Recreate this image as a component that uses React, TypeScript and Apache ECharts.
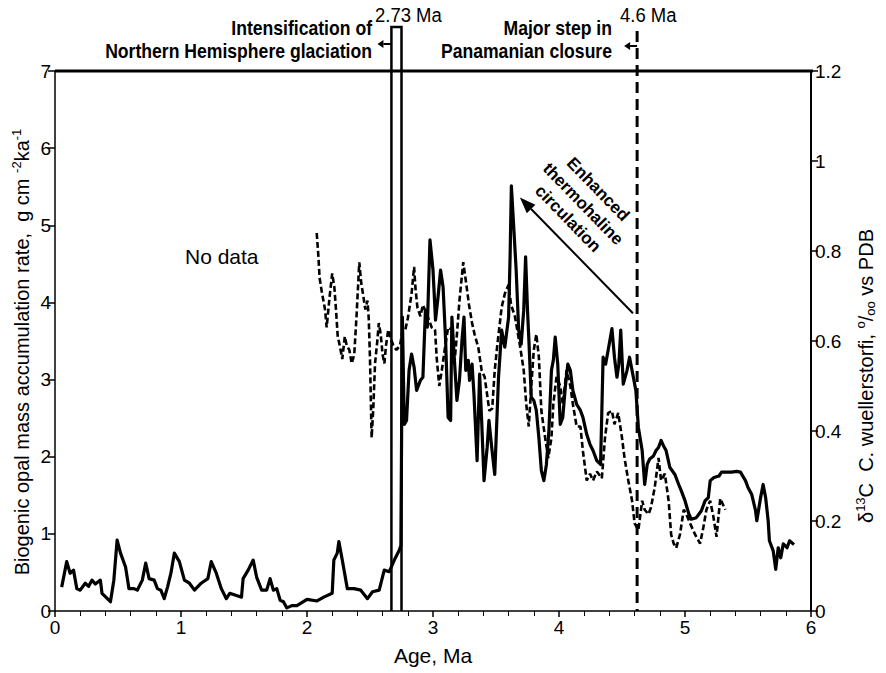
import React, { useEffect, useRef } from "react";
import * as echarts from "echarts";

// Biogenic opal mass accumulation rate (g cm-2 ka-1), solid line, left axis
const opalAge = [
  0.053, 0.093, 0.12, 0.147, 0.173, 0.2, 0.24, 0.267, 0.293, 0.32, 0.36, 0.373, 0.44, 0.467, 0.493, 0.52, 0.56,
  0.587, 0.627, 0.653, 0.693, 0.72, 0.747, 0.787, 0.813, 0.84, 0.867, 0.893, 0.92, 0.947, 0.987, 1.027, 1.067,
  1.107, 1.16, 1.213, 1.24, 1.28, 1.32, 1.36, 1.387, 1.44, 1.48, 1.493, 1.533, 1.573, 1.6, 1.64, 1.68, 1.707,
  1.733, 1.76, 1.787, 1.813, 1.84, 1.88, 1.92, 2.0, 2.08, 2.133, 2.2, 2.213, 2.24, 2.253, 2.28, 2.32, 2.373,
  2.427, 2.48, 2.52, 2.573, 2.613, 2.653, 2.693, 2.733, 2.745,
  2.757, 2.772, 2.79, 2.81, 2.83, 2.85, 2.87, 2.9, 2.92, 2.94, 2.955, 2.976, 3.0, 3.02, 3.04, 3.06, 3.08, 3.1,
  3.12, 3.14, 3.15, 3.17, 3.19, 3.21, 3.23, 3.246, 3.26, 3.28, 3.29, 3.31, 3.325, 3.35, 3.37, 3.386, 3.405,
  3.43, 3.444, 3.466, 3.49, 3.52, 3.545, 3.57, 3.6, 3.612, 3.622, 3.64, 3.66, 3.68, 3.7, 3.72, 3.735, 3.75,
  3.76, 3.78, 3.8, 3.82, 3.84, 3.86, 3.88, 3.9, 3.92, 3.94, 3.955, 3.97, 3.99, 4.01, 4.03, 4.05, 4.07, 4.09,
  4.11, 4.14, 4.17, 4.19, 4.22, 4.246, 4.27, 4.3, 4.33, 4.35, 4.37, 4.39, 4.42, 4.44, 4.46, 4.475, 4.49, 4.51,
  4.54, 4.56, 4.59, 4.61, 4.63, 4.66, 4.68, 4.7, 4.72, 4.75, 4.77, 4.79, 4.81, 4.83, 4.85, 4.88, 4.92, 4.95,
  4.97, 5.0, 5.03, 5.05, 5.09, 5.13, 5.16, 5.185, 5.2, 5.23, 5.27, 5.29, 5.33, 5.37, 5.41, 5.44, 5.48, 5.5,
  5.53, 5.56, 5.57, 5.6, 5.62, 5.64, 5.66, 5.67, 5.7, 5.72, 5.74, 5.76, 5.78, 5.81, 5.83, 5.865,
];
const opalRate = [
  0.31, 0.64, 0.49, 0.53, 0.29, 0.27, 0.36, 0.32, 0.4, 0.35, 0.4, 0.23, 0.12, 0.4, 0.92, 0.75, 0.57,
  0.29, 0.29, 0.27, 0.4, 0.62, 0.42, 0.4, 0.29, 0.27, 0.16, 0.31, 0.49, 0.75, 0.64, 0.4, 0.36,
  0.27, 0.36, 0.42, 0.64, 0.49, 0.29, 0.16, 0.23, 0.2, 0.18, 0.42, 0.53, 0.66, 0.44, 0.27, 0.27, 0.42,
  0.27, 0.29, 0.14, 0.12, 0.04, 0.07, 0.07, 0.15, 0.13, 0.18, 0.23, 0.66, 0.75, 0.9, 0.66, 0.29, 0.29,
  0.27, 0.16, 0.25, 0.27, 0.53, 0.51, 0.66, 0.79, 0.85,
  3.81, 2.42, 2.47, 3.12, 3.33, 3.16, 2.86, 2.99, 3.03, 3.9, 3.68, 4.81, 4.42, 3.77, 4.07, 4.42, 4.2, 3.51,
  2.51, 2.47, 3.81, 3.25, 2.73, 2.99, 3.51, 3.81, 3.12, 3.25, 2.99, 3.2, 2.81, 1.95, 3.07, 2.47, 1.69,
  2.12, 2.47, 2.12, 1.77, 3.03, 3.64, 3.42, 3.81, 4.6, 5.51, 5.0, 4.42, 3.64, 3.46, 3.9, 4.59, 3.9,
  3.55, 2.77, 2.73, 2.6, 2.25, 1.82, 1.69, 1.9, 2.34, 3.12, 3.25, 3.55, 3.2, 2.42, 2.51, 2.9, 3.2, 3.12,
  2.86, 2.68, 2.6, 2.51, 2.29, 2.16, 2.08, 1.95, 1.9, 3.29, 3.2, 3.38, 3.66, 3.29, 3.03, 3.2, 3.64, 2.94,
  3.12, 3.29, 3.03, 2.86, 2.38, 2.08, 1.64, 1.9, 1.97, 2.01, 2.08, 2.12, 2.21, 2.14, 2.08, 1.86, 1.77, 1.64,
  1.56, 1.43, 1.26, 1.19, 1.21, 1.3, 1.43, 1.47, 1.69, 1.73, 1.75, 1.8, 1.8, 1.8, 1.81, 1.8, 1.69, 1.6,
  1.51, 1.3, 1.17, 1.47, 1.64, 1.47, 1.17, 0.91, 0.78, 0.54, 0.82, 0.69, 0.87, 0.82, 0.91, 0.86,
];

// δ13C C. wuellerstorfi (‰ vs PDB), dashed line, right axis
const d13cAge = [
  2.077, 2.09, 2.1, 2.117, 2.13, 2.143, 2.156, 2.18, 2.2, 2.217, 2.23, 2.244, 2.26, 2.28, 2.3, 2.315, 2.336,
  2.355, 2.375, 2.394, 2.415, 2.43, 2.447, 2.463, 2.48, 2.49, 2.5, 2.508, 2.513, 2.526, 2.54, 2.558, 2.57,
  2.585, 2.6, 2.614, 2.627, 2.645, 2.66, 2.685, 2.71, 2.738, 2.76, 2.78, 2.8, 2.83, 2.85, 2.86, 2.876, 2.9,
  2.92, 2.95, 2.99, 3.016, 3.03, 3.05, 3.07, 3.095, 3.12, 3.15, 3.16, 3.17, 3.19, 3.21, 3.24, 3.26, 3.286,
  3.31, 3.33, 3.36, 3.386, 3.41, 3.43, 3.447, 3.47, 3.49, 3.51, 3.545, 3.57, 3.6, 3.62, 3.65, 3.69, 3.72,
  3.74, 3.76, 3.78, 3.8, 3.82, 3.84, 3.86, 3.89, 3.915, 3.94, 3.955, 3.98, 4.01, 4.03, 4.06, 4.09, 4.11,
  4.14, 4.17, 4.19, 4.22, 4.246, 4.27, 4.3, 4.34, 4.365, 4.39, 4.42, 4.44, 4.47, 4.5, 4.52, 4.55, 4.58, 4.6,
  4.63, 4.66, 4.68, 4.71, 4.73, 4.76, 4.79, 4.81, 4.84, 4.87, 4.89, 4.91, 4.93, 4.96, 4.99, 5.01, 5.04, 5.08,
  5.12, 5.145, 5.17, 5.2, 5.225, 5.25, 5.28, 5.32,
];
const d13cValue = [
  0.84, 0.79, 0.74, 0.71, 0.69, 0.67, 0.63, 0.7, 0.75, 0.72, 0.67, 0.61, 0.59, 0.56, 0.61, 0.59, 0.58,
  0.55, 0.57, 0.66, 0.775, 0.73, 0.7, 0.67, 0.69, 0.65, 0.56, 0.45, 0.385, 0.45, 0.55, 0.6, 0.64,
  0.615, 0.57, 0.55, 0.59, 0.625, 0.61, 0.59, 0.58, 0.59, 0.625, 0.625, 0.65, 0.705, 0.765, 0.72, 0.675, 0.655,
  0.68, 0.66, 0.63, 0.625, 0.56, 0.5, 0.535, 0.585, 0.63, 0.625, 0.57, 0.55, 0.615, 0.69, 0.775, 0.735, 0.68,
  0.64, 0.615, 0.585, 0.535, 0.52, 0.48, 0.445, 0.45, 0.535, 0.59, 0.675, 0.705, 0.725, 0.68, 0.655, 0.59, 0.535,
  0.46, 0.41, 0.5, 0.58, 0.615, 0.565, 0.445, 0.385, 0.34, 0.385, 0.46, 0.52, 0.5, 0.46, 0.535, 0.5, 0.46,
  0.41, 0.41, 0.355, 0.29, 0.305, 0.29, 0.31, 0.295, 0.385, 0.44, 0.445, 0.415, 0.44, 0.385, 0.34, 0.29, 0.245, 0.195,
  0.18, 0.245, 0.225, 0.215, 0.23, 0.275, 0.34, 0.29, 0.305, 0.245, 0.17, 0.15, 0.14, 0.17, 0.225, 0.215, 0.195, 0.17,
  0.15, 0.185, 0.225, 0.245, 0.21, 0.165, 0.25, 0.225,
];

// Event markers (Ma)
const nhgBox = [2.67, 2.75];
const closureAge = 4.62;
// Arrow "Enhanced thermohaline circulation": from [age, rate] to [age, rate]
const thcArrowFrom = [4.587, 3.86];
const thcArrowTo = [3.69, 5.36];

const sans = "'Liberation Sans', Arial, sans-serif";

export default function App() {
  const ref = useRef<HTMLDivElement>(null);
  useEffect(() => {
    const chart = echarts.init(ref.current!, null, { renderer: "svg" });
    const tickLabel = { color: "#000", fontFamily: sans, fontSize: 19 };
    chart.setOption({
      animation: false,
      backgroundColor: "#fff",
      grid: { left: 55, right: 75, top: 71, bottom: 62 },
      xAxis: {
        type: "value",
        min: 0,
        max: 6,
        interval: 1,
        name: "Age, Ma",
        nameLocation: "middle",
        nameGap: 34,
        nameTextStyle: { color: "#000", fontFamily: sans, fontSize: 21 },
        axisLine: { onZero: false, lineStyle: { color: "#000", width: 1.5 } },
        axisTick: { length: 6, lineStyle: { color: "#000", width: 1.5 } },
        minorTick: { show: true, splitNumber: 5, length: 5, lineStyle: { color: "#000", width: 1 } },
        axisLabel: { ...tickLabel, margin: 7 },
        splitLine: { show: false },
      },
      yAxis: [
        {
          type: "value",
          min: 0,
          max: 7,
          interval: 1,
          position: "left",
          axisLine: { show: true, onZero: false, lineStyle: { color: "#000", width: 1.5 } },
          axisTick: { show: true, length: 7, lineStyle: { color: "#000", width: 1.5 } },
          axisLabel: { ...tickLabel, margin: 4 },
          splitLine: { show: false },
        },
        {
          type: "value",
          min: 0,
          max: 1.2,
          interval: 0.2,
          position: "right",
          axisLine: { show: true, onZero: false, lineStyle: { color: "#000", width: 2 } },
          axisTick: { show: true, length: 7, lineStyle: { color: "#000", width: 1.5 } },
          axisLabel: { ...tickLabel, margin: 4 },
          splitLine: { show: false },
        },
      ],
      series: [
        {
          name: "Opal MAR",
          type: "line",
          yAxisIndex: 0,
          showSymbol: false,
          symbol: "none",
          data: opalAge.map((a, i) => [a, opalRate[i]]),
          lineStyle: { color: "#000", width: 3.2, join: "round" },
          clip: false,
        },
        {
          name: "d13C",
          type: "line",
          yAxisIndex: 1,
          showSymbol: false,
          symbol: "none",
          data: d13cAge.map((a, i) => [a, d13cValue[i]]),
          lineStyle: { color: "#000", width: 2.6, type: [6, 3] },
        },
      ],
    });

    const px = (x: number, y: number) => chart.convertToPixel({ xAxisIndex: 0, yAxisIndex: 0 }, [x, y]) as number[];
    const [gx0, gyTop] = px(0, 7);
    const [gx1, gyBot] = px(6, 0);
    const stroke = { stroke: "#000", fill: "none" };

    const arrow = (x0: number, y0: number, x1: number, y1: number, head: number, half: number, lw: number) => {
      const dx = x1 - x0, dy = y1 - y0;
      const len = Math.hypot(dx, dy);
      const ux = dx / len, uy = dy / len;
      const bx = x1 - ux * head, by = y1 - uy * head;
      return [
        { type: "line", shape: { x1: x0, y1: y0, x2: bx, y2: by }, style: { ...stroke, lineWidth: lw } },
        {
          type: "polygon",
          shape: { points: [[x1, y1], [bx - uy * half, by + ux * half], [bx + uy * half, by - ux * half]] },
          style: { fill: "#000", stroke: "none" },
        },
      ];
    };

    const bxL = px(nhgBox[0], 0)[0];
    const bxR = px(nhgBox[1], 0)[0];
    const cx = px(closureAge, 0)[0];
    const boxTop = gyTop - 44;
    const [a0x, a0y] = px(thcArrowFrom[0], thcArrowFrom[1]);
    const [a1x, a1y] = px(thcArrowTo[0], thcArrowTo[1]);

    const sup = { fontSize: 13, fontFamily: sans, fill: "#000", padding: [0, 0, 12, 0] };
    const sub = { fontSize: 13, fontFamily: sans, fill: "#000", padding: [8, 0, 0, 0] };
    const boldNote = {
      fontFamily: sans, fontWeight: "bold", fontSize: 20, lineHeight: 23, fill: "#000",
      align: "right", verticalAlign: "middle",
    };

    chart.setOption({
      graphic: [
        { type: "line", shape: { x1: gx0, y1: gyTop, x2: gx1 + 2, y2: gyTop }, style: { ...stroke, lineWidth: 3 } },
        {
          type: "polyline",
          shape: { points: [[bxL, gyBot], [bxL, boxTop], [bxR, boxTop], [bxR, gyBot]] },
          style: { ...stroke, lineWidth: 2.5 },
        },
        {
          type: "line",
          shape: { x1: cx, y1: boxTop + 4, x2: cx, y2: gyBot },
          style: { ...stroke, lineWidth: 3, lineDash: [11, 6] },
        },
        ...arrow(bxL, gyTop - 27, bxL - 14, gyTop - 27, 6, 4, 2),
        ...arrow(cx, gyTop - 25, cx - 13, gyTop - 25, 6, 4, 2),
        ...arrow(a0x, a0y, a1x, a1y, 16, 6, 2),
        {
          type: "text", x: 375, y: 15, scaleX: 0.88,
          style: { text: "2.73 Ma", fontFamily: sans, fontSize: 21, fill: "#000", align: "left", verticalAlign: "middle" },
        },
        {
          type: "text", x: 620, y: 15, scaleX: 0.88,
          style: { text: "4.6 Ma", fontFamily: sans, fontSize: 21, fill: "#000", align: "left", verticalAlign: "middle" },
        },
        {
          type: "text", x: 372, y: 40, scaleX: 0.88,
          style: { ...boldNote, text: "Intensification of\nNorthern Hemisphere glaciation" },
        },
        {
          type: "text", x: 612, y: 40, scaleX: 0.88,
          style: { ...boldNote, text: "Major step in\nPanamanian closure" },
        },
        {
          type: "text", x: 185, y: 256,
          style: { text: "No data", fontFamily: sans, fontSize: 21, fill: "#000", align: "left", verticalAlign: "middle" },
        },
        {
          type: "text", x: 583, y: 204, rotation: -0.8,
          style: {
            text: "Enhanced\nthermohaline\ncirculation", fontFamily: sans, fontWeight: "bold",
            fontSize: 17, lineHeight: 21, fill: "#000", align: "center", verticalAlign: "middle",
          },
        },
        {
          type: "text", x: 22, y: 352, rotation: Math.PI / 2,
          style: {
            text: "Biogenic opal mass accumulation rate,  g cm {sup|-2}ka{sup|-1}",
            fontFamily: sans, fontSize: 20, fill: "#000", align: "center", verticalAlign: "middle",
            rich: { sup },
          },
        },
        {
          type: "text", x: 866, y: 376, rotation: Math.PI / 2,
          style: {
            text: "δ{sup|13}C  C. wuellerstorfi, {sup|o}/{sub|oo} vs PDB",
            fontFamily: sans, fontSize: 20, fill: "#000", align: "center", verticalAlign: "middle",
            rich: { sup, sub },
          },
        },
      ],
    });
    return () => chart.dispose();
  }, []);
  return <div ref={ref} style={{ position: "absolute", left: 0, top: 0, width: 886, height: 673 }} />;
}
